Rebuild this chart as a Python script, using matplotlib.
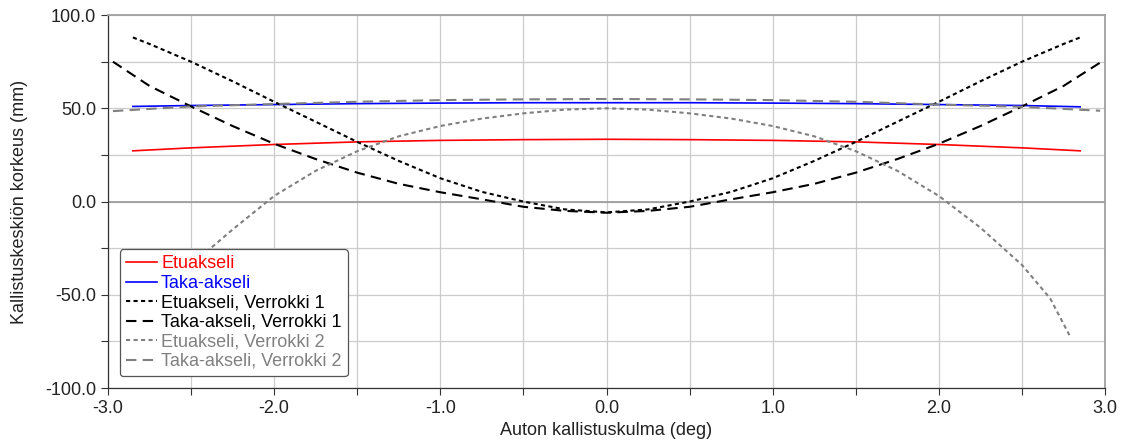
# kallistuskeskion korkeus vs. kallistuskulma
import numpy as np
import matplotlib.pyplot as plt
from matplotlib.ticker import MultipleLocator, FormatStrFormatter

plt.rcParams['font.family'] = ['Liberation Sans', 'DejaVu Sans']

# Etuakseli / Taka-akseli (simuloitu)
x_sim = [-2.85, -2.5, -2.0, -1.5, -1.0, -0.5, 0.0, 0.5, 1.0, 1.5, 2.0, 2.5, 2.85]
etu = [27.2, 28.8, 30.6, 32.0, 32.8, 33.2, 33.4, 33.2, 32.8, 32.0, 30.6, 28.8, 27.2]
taka = [51.0, 51.5, 52.0, 52.5, 52.8, 53.0, 53.0, 53.0, 52.8, 52.5, 52.0, 51.5, 50.8]

# Verrokki 1
x_v1_etu = [-2.85, -2.75, -2.5, -2.25, -2.0, -1.75, -1.5, -1.25, -1.0, -0.75, -0.5, -0.25, 0.0,
            0.25, 0.5, 0.75, 1.0, 1.25, 1.5, 1.75, 2.0, 2.25, 2.5, 2.75, 2.85]
v1_etu = [88.0, 84.5, 75.0, 64.5, 53.5, 42.8, 32.0, 21.8, 12.5, 5.2, 0.0, -4.2, -5.8,
          -4.2, 0.0, 5.2, 12.5, 21.8, 32.0, 42.8, 53.5, 64.5, 75.0, 84.5, 88.0]
x_v1_taka = [-2.97, -2.75, -2.5, -2.25, -2.0, -1.75, -1.5, -1.25, -1.0, -0.75, -0.5, -0.25, 0.0,
             0.25, 0.5, 0.75, 1.0, 1.25, 1.5, 1.75, 2.0, 2.25, 2.5, 2.75, 2.97]
v1_taka = [75.0, 62.0, 51.0, 40.5, 31.0, 22.8, 15.5, 9.5, 5.0, 1.2, -2.8, -5.0, -6.0,
           -5.0, -2.8, 1.2, 5.0, 9.5, 15.5, 22.8, 31.0, 40.5, 51.0, 62.0, 74.5]

# Verrokki 2
x_v2_etu = [-2.785, -2.67, -2.5, -2.25, -2.0, -1.75, -1.5, -1.25, -1.0, -0.75, -0.5, -0.25, 0.0,
            0.25, 0.5, 0.75, 1.0, 1.25, 1.5, 1.75, 2.0, 2.25, 2.5, 2.67, 2.785]
v2_etu = [-71.6, -52.0, -34.0, -15.0, 3.0, 16.5, 27.0, 35.0, 40.5, 44.5, 47.3, 49.3, 50.0,
          49.3, 47.3, 44.5, 40.5, 35.0, 27.0, 16.5, 3.0, -14.0, -34.0, -52.0, -71.6]
x_v2_taka = [-2.97, -2.5, -2.0, -1.5, -1.0, -0.5, 0.0, 0.5, 1.0, 1.5, 2.0, 2.5, 2.97]
v2_taka = [48.5, 51.0, 52.3, 53.5, 54.4, 54.8, 55.0, 54.8, 54.4, 53.5, 52.0, 50.8, 48.7]

fs = 13

fig = plt.figure(figsize=(11.28, 4.43), dpi=100)
ax = fig.add_axes([0.0957, 0.124, 0.8840, 0.842])

ax.plot(x_sim, etu, color='#ff0000', lw=1.2, label='Etuakseli')
ax.plot(x_sim, taka, color='#0000ff', lw=1.2, label='Taka-akseli')
ax.plot(x_v1_etu, v1_etu, color='black', lw=1.5, ls=(0, (2, 1.6)), label='Etuakseli, Verrokki 1')
ax.plot(x_v1_taka, v1_taka, color='black', lw=1.5, ls=(0, (5, 3)), label='Taka-akseli, Verrokki 1')
ax.plot(x_v2_etu, v2_etu, color='#808080', lw=1.5, ls=(0, (2, 1.6)), label='Etuakseli, Verrokki 2')
ax.plot(x_v2_taka, v2_taka, color='#808080', lw=1.5, ls=(0, (5, 3)), label='Taka-akseli, Verrokki 2')

ax.set_xlim(-3, 3)
ax.set_ylim(-100, 100)
ax.xaxis.set_major_locator(MultipleLocator(1.0))
ax.xaxis.set_minor_locator(MultipleLocator(0.5))
ax.yaxis.set_major_locator(MultipleLocator(50))
ax.yaxis.set_minor_locator(MultipleLocator(25))
ax.xaxis.set_major_formatter(FormatStrFormatter('%.1f'))
ax.yaxis.set_major_formatter(FormatStrFormatter('%.1f'))
ax.tick_params(which='both', direction='out', length=5, width=0.8, colors='#333333',
               labelsize=fs, labelcolor='#222222')
ax.grid(which='both', color='#cccccc', lw=0.9)
ax.axhline(0, color='#999999', lw=1.2, zorder=1.5)
ax.set_axisbelow(True)

for side in ['top', 'right']:
    ax.spines[side].set_color('#a0a0a0')
    ax.spines[side].set_linewidth(1.3)
for side in ['left', 'bottom']:
    ax.spines[side].set_color('#333333')
    ax.spines[side].set_linewidth(0.9)

ax.set_xlabel('Auton kallistuskulma (deg)', fontsize=fs, color='#222222', labelpad=4)
ax.set_ylabel('Kallistuskeskiön korkeus (mm)', fontsize=fs, color='#222222', labelpad=12)

leg = ax.legend(loc='lower left', bbox_to_anchor=(0.008, 0.022), fontsize=fs,
                handlelength=1.7, handletextpad=0.25, labelspacing=0.14,
                borderpad=0.35, borderaxespad=0.2, fancybox=True, framealpha=1,
                edgecolor='#555555')
leg.get_frame().set_linewidth(0.9)
for txt, c in zip(leg.get_texts(), ['#ff0000', '#0000ff', 'black', 'black', '#808080', '#808080']):
    txt.set_color(c)

fig.savefig('out.png', dpi=100)
